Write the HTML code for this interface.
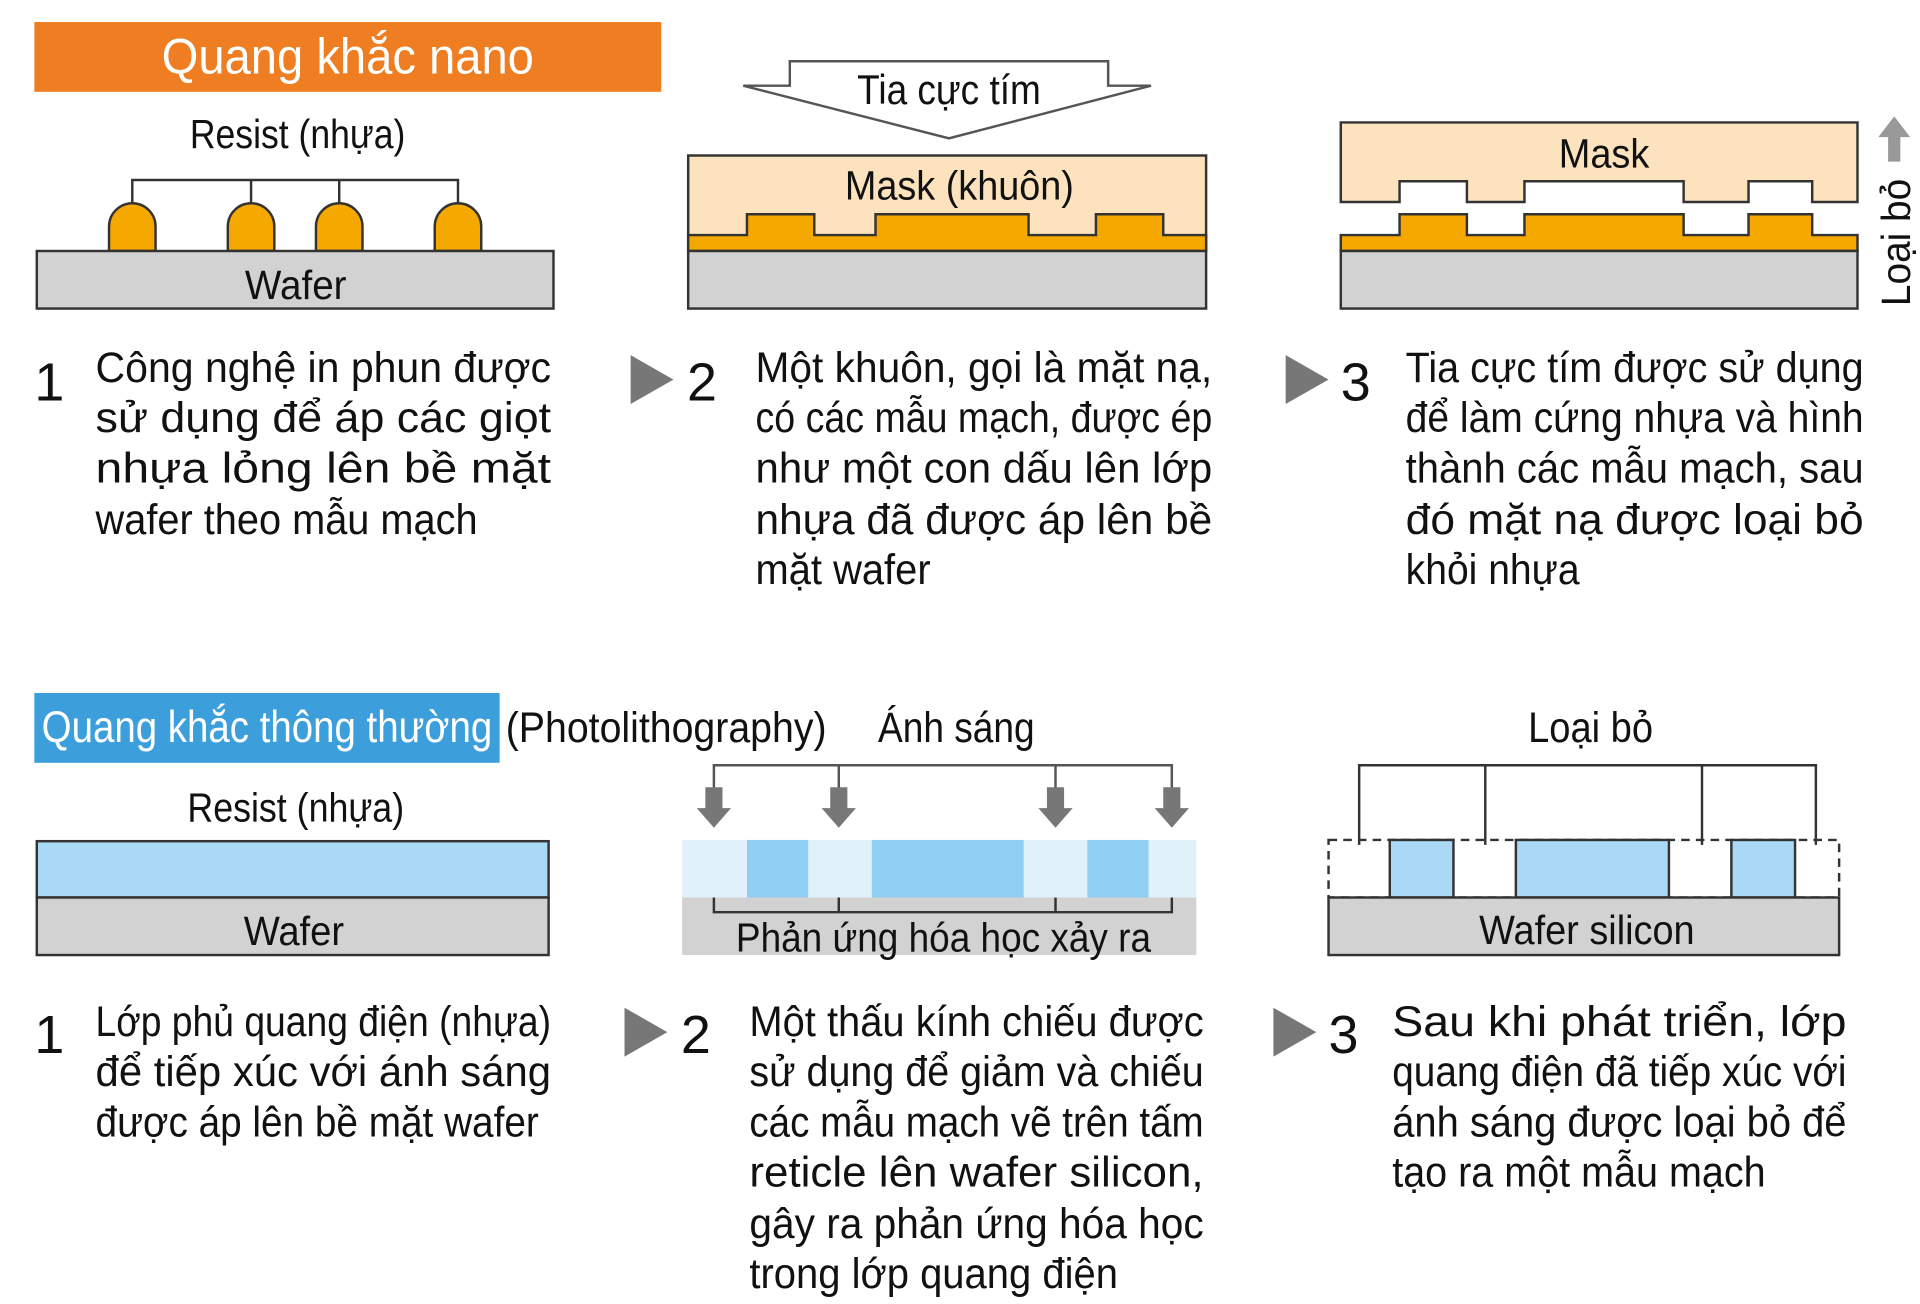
<!DOCTYPE html>
<html><head><meta charset="utf-8"><style>
html,body{margin:0;padding:0;background:#fff;}
svg{display:block;}
text{font-family:"Liberation Sans Narrow","Liberation Sans",sans-serif;fill:#111;}
.b{font-size:35px;}
.n{font-size:44px;}
</style></head><body>
<svg width="1920" height="1304" viewBox="0 0 1568 1065" xmlns="http://www.w3.org/2000/svg">
<rect width="1568" height="1065" fill="#fff"/>
<!-- TOP -->
<rect x="28" y="18" width="512" height="57" fill="#ef7d22"/>
<text x="132" y="60" font-size="41" style="fill:#fff" textLength="304" lengthAdjust="spacingAndGlyphs">Quang khắc nano</text>
<text x="155" y="121" font-size="33" textLength="176" lengthAdjust="spacingAndGlyphs">Resist (nhựa)</text>
<g stroke="#333" stroke-width="2" fill="none">
<path d="M108 166V147H374V166M205 147V166M277 147V166"/>
</g>
<g fill="#f5a800" stroke="#333" stroke-width="2">
<path d="M89 205V185A19 19 0 0 1 127 185V205Z"/>
<path d="M186 205V185A19 19 0 0 1 224 185V205Z"/>
<path d="M258 205V185A19 19 0 0 1 296 185V205Z"/>
<path d="M355 205V185A19 19 0 0 1 393 185V205Z"/>
</g>
<rect x="30" y="205" width="422" height="47" fill="#d2d2d2" stroke="#333" stroke-width="2"/>
<text x="200" y="244" font-size="33" textLength="83" lengthAdjust="spacingAndGlyphs">Wafer</text>
<text x="28" y="327" class="n">1</text>
<g class="b">
<text x="78" y="312" textLength="372" lengthAdjust="spacingAndGlyphs">Công nghệ in phun được</text>
<text x="78" y="353" textLength="372" lengthAdjust="spacingAndGlyphs">sử dụng để áp các giọt</text>
<text x="78" y="394" textLength="372" lengthAdjust="spacingAndGlyphs">nhựa lỏng lên bề mặt</text>
<text x="78" y="436" textLength="312" lengthAdjust="spacingAndGlyphs">wafer theo mẫu mạch</text>
</g>
<!-- panel 2 -->
<path d="M645 50H905V70H940L775 113L607 70H645Z" fill="#fff" stroke="#555" stroke-width="2"/>
<text x="700" y="85" font-size="34" textLength="150" lengthAdjust="spacingAndGlyphs">Tia cực tím</text>
<rect x="562" y="127" width="423" height="78" fill="#fde3bd" stroke="#333" stroke-width="2"/>
<path d="M562 192H610V175H665V192H715V175H840V192H895V175H950V192H985V205H562Z" fill="#f5a800" stroke="#333" stroke-width="2"/>
<rect x="562" y="205" width="423" height="47" fill="#d2d2d2" stroke="#333" stroke-width="2"/>
<text x="690" y="163" font-size="33" textLength="187" lengthAdjust="spacingAndGlyphs">Mask (khuôn)</text>
<path d="M515 290L550 310L515 330Z" fill="#777"/>
<text x="561" y="327" class="n">2</text>
<g class="b">
<text x="617" y="312" textLength="373" lengthAdjust="spacingAndGlyphs">Một khuôn, gọi là mặt nạ,</text>
<text x="617" y="353" textLength="373" lengthAdjust="spacingAndGlyphs">có các mẫu mạch, được ép</text>
<text x="617" y="394" textLength="373" lengthAdjust="spacingAndGlyphs">như một con dấu lên lớp</text>
<text x="617" y="436" textLength="373" lengthAdjust="spacingAndGlyphs">nhựa đã được áp lên bề</text>
<text x="617" y="477" textLength="143" lengthAdjust="spacingAndGlyphs">mặt wafer</text>
</g>
<!-- panel 3 -->
<path d="M1095 100H1517V165H1480V148H1428V165H1375V148H1245V165H1198V148H1143V165H1095Z" fill="#fde3bd" stroke="#333" stroke-width="2"/>
<text x="1273" y="137" font-size="33" textLength="74" lengthAdjust="spacingAndGlyphs">Mask</text>
<path d="M1095 192H1143V175H1198V192H1245V175H1375V192H1428V175H1480V192H1517V205H1095Z" fill="#f5a800" stroke="#333" stroke-width="2"/>
<rect x="1095" y="205" width="422" height="47" fill="#d2d2d2" stroke="#333" stroke-width="2"/>
<path d="M1547 95L1560 112H1552V132H1542V112H1534Z" fill="#999"/>
<text transform="translate(1560 250) rotate(-90)" font-size="33" textLength="104" lengthAdjust="spacingAndGlyphs">Loại bỏ</text>
<path d="M1050 290L1085 310L1050 330Z" fill="#777"/>
<text x="1095" y="327" class="n">3</text>
<g class="b">
<text x="1148" y="312" textLength="374" lengthAdjust="spacingAndGlyphs">Tia cực tím được sử dụng</text>
<text x="1148" y="353" textLength="374" lengthAdjust="spacingAndGlyphs">để làm cứng nhựa và hình</text>
<text x="1148" y="394" textLength="374" lengthAdjust="spacingAndGlyphs">thành các mẫu mạch, sau</text>
<text x="1148" y="436" textLength="374" lengthAdjust="spacingAndGlyphs">đó mặt nạ được loại bỏ</text>
<text x="1148" y="477" textLength="142" lengthAdjust="spacingAndGlyphs">khỏi nhựa</text>
</g>
<!-- BOTTOM -->
<rect x="28" y="566" width="380" height="57" fill="#3c9fdc"/>
<text x="34" y="606" font-size="36" style="fill:#fff" textLength="368" lengthAdjust="spacingAndGlyphs">Quang khắc thông thường</text>
<text x="413" y="606" font-size="35" textLength="262" lengthAdjust="spacingAndGlyphs">(Photolithography)</text>
<text x="717" y="606" font-size="35" textLength="128" lengthAdjust="spacingAndGlyphs">Ánh sáng</text>
<text x="153" y="671" font-size="33" textLength="177" lengthAdjust="spacingAndGlyphs">Resist (nhựa)</text>
<rect x="30" y="687" width="418" height="46" fill="#a9d9f5" stroke="#333" stroke-width="2"/>
<rect x="30" y="733" width="418" height="47" fill="#d2d2d2" stroke="#333" stroke-width="2"/>
<text x="199" y="772" font-size="33" textLength="82" lengthAdjust="spacingAndGlyphs">Wafer</text>
<text x="28" y="860" class="n">1</text>
<g class="b">
<text x="78" y="846" textLength="372" lengthAdjust="spacingAndGlyphs">Lớp phủ quang điện (nhựa)</text>
<text x="78" y="887" textLength="372" lengthAdjust="spacingAndGlyphs">để tiếp xúc với ánh sáng</text>
<text x="78" y="928" textLength="362" lengthAdjust="spacingAndGlyphs">được áp lên bề mặt wafer</text>
</g>
<!-- panel 2 bottom -->
<g stroke="#555" stroke-width="2" fill="none"><path d="M583 645V625H957V645M685 625V645M862 625V645"/></g>
<g fill="#777">
<path d="M576 643H590V660H597L583 676L569 660H576Z"/>
<path d="M678 643H692V660H699L685 676L671 660H678Z"/>
<path d="M855 643H869V660H876L862 676L848 660H855Z"/>
<path d="M950 643H964V660H971L957 676L943 660H950Z"/>
</g>
<rect x="557" y="686" width="420" height="47" fill="#e0f1fc"/>
<rect x="610" y="686" width="50" height="47" fill="#8fcff1"/>
<rect x="712" y="686" width="124" height="47" fill="#8fcff1"/>
<rect x="888" y="686" width="50" height="47" fill="#8fcff1"/>
<rect x="557" y="733" width="420" height="47" fill="#d2d2d2"/>
<path d="M583 733V745H957V733M685 733V745M862 733V745" stroke="#333" stroke-width="2" fill="none"/>
<text x="601" y="777" font-size="33" textLength="339" lengthAdjust="spacingAndGlyphs">Phản ứng hóa học xảy ra</text>
<path d="M510 823L545 843L510 863Z" fill="#777"/>
<text x="556" y="860" class="n">2</text>
<g class="b">
<text x="612" y="846" textLength="371" lengthAdjust="spacingAndGlyphs">Một thấu kính chiếu được</text>
<text x="612" y="887" textLength="371" lengthAdjust="spacingAndGlyphs">sử dụng để giảm và chiếu</text>
<text x="612" y="928" textLength="371" lengthAdjust="spacingAndGlyphs">các mẫu mạch vẽ trên tấm</text>
<text x="612" y="969" textLength="371" lengthAdjust="spacingAndGlyphs">reticle lên wafer silicon,</text>
<text x="612" y="1011" textLength="371" lengthAdjust="spacingAndGlyphs">gây ra phản ứng hóa học</text>
<text x="612" y="1052" textLength="301" lengthAdjust="spacingAndGlyphs">trong lớp quang điện</text>
</g>
<!-- panel 3 bottom -->
<text x="1248" y="606" font-size="35" textLength="102" lengthAdjust="spacingAndGlyphs">Loại bỏ</text>
<g stroke="#333" stroke-width="2" fill="none"><path d="M1110 690V625H1483V690M1213 625V690M1390 625V690"/></g>
<rect x="1085" y="686" width="417" height="47" fill="none" stroke="#333" stroke-width="2" stroke-dasharray="7 5"/>
<g fill="#a9d9f5" stroke="#333" stroke-width="2">
<rect x="1135" y="686" width="52" height="47"/>
<rect x="1238" y="686" width="125" height="47"/>
<rect x="1414" y="686" width="52" height="47"/>
</g>
<rect x="1085" y="733" width="417" height="47" fill="#d2d2d2" stroke="#333" stroke-width="2"/>
<text x="1208" y="771" font-size="33" textLength="176" lengthAdjust="spacingAndGlyphs">Wafer silicon</text>
<path d="M1040 823L1075 843L1040 863Z" fill="#777"/>
<text x="1085" y="860" class="n">3</text>
<g class="b">
<text x="1137" y="846" textLength="371" lengthAdjust="spacingAndGlyphs">Sau khi phát triển, lớp</text>
<text x="1137" y="887" textLength="371" lengthAdjust="spacingAndGlyphs">quang điện đã tiếp xúc với</text>
<text x="1137" y="928" textLength="371" lengthAdjust="spacingAndGlyphs">ánh sáng được loại bỏ để</text>
<text x="1137" y="969" textLength="305" lengthAdjust="spacingAndGlyphs">tạo ra một mẫu mạch</text>
</g>
</svg>
</body></html>
